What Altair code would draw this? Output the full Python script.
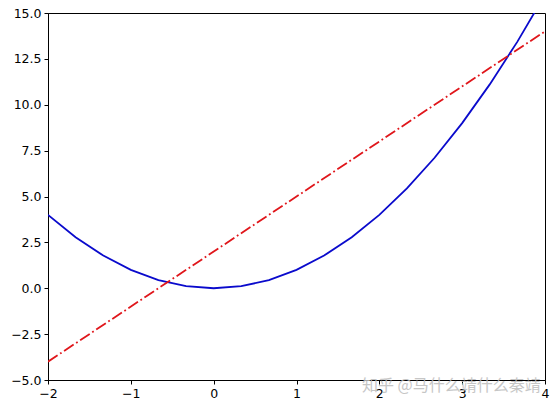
import altair as alt
import pandas as pd

# blue curve, values
curve_x = [-2.0, -1.667, -1.333, -1.0, -0.667, -0.333, 0.0, 0.333, 0.667, 1.0,
           1.333, 1.667, 2.0, 2.333, 2.667, 3.0, 3.333, 3.667, 4.0]
curve_y = [4.0, 2.78, 1.78, 1.0, 0.44, 0.11, 0.0, 0.11, 0.44, 1.0,
           1.78, 2.78, 4.0, 5.44, 7.11, 9.0, 11.11, 13.44, 16.0]
# red dash-dot line
line_x = [-2.0, 4.0]
line_y = [-4.0, 14.0]
# ticks
x_ticks = [-2, -1, 0, 1, 2, 3, 4]
y_ticks = [-5, -2.5, 0, 2.5, 5, 7.5, 10, 12.5, 15]
watermark = "知乎 @马什么靖什么秦靖"

curve_df = pd.DataFrame({"x": curve_x, "y": curve_y})
line_df = pd.DataFrame({"x": line_x, "y": line_y})

xs = alt.Scale(domain=[-2, 4], nice=False, zero=False)
ys = alt.Scale(domain=[-5, 15], nice=False, zero=False)

xax = alt.Axis(values=x_ticks, title=None, labelFlush=False,
               labelExpr="replace(format(datum.value, 'd'), '-', '\u2212')")
yax = alt.Axis(values=y_ticks, title=None, labelFlush=False,
               labelExpr="replace(format(datum.value, '.1f'), '-', '\u2212')")

blue = alt.Chart(curve_df).mark_line(color="#0a0acc", strokeWidth=1.8, clip=True).encode(
    x=alt.X("x:Q", scale=xs, axis=xax),
    y=alt.Y("y:Q", scale=ys, axis=yax),
)
red = alt.Chart(line_df).mark_line(color="#e0161b", strokeWidth=1.8, clip=True,
                                    strokeDash=[11.5, 3, 1.8, 3]).encode(
    x=alt.X("x:Q", scale=xs),
    y=alt.Y("y:Q", scale=ys),
)
wm = alt.Chart(pd.DataFrame({"t": [watermark]})).mark_text(
    align="left", baseline="alphabetic", fontSize=16, font="Noto Sans CJK SC",
    color="#bdbdbd", opacity=0.85,
).encode(x=alt.value(314), y=alt.value(378), text="t:N")

chart = alt.layer(blue, red, wm).properties(
    width=497, height=367,
    autosize=alt.AutoSizeParams(type="none"),
    padding={"left": 40, "top": 5, "right": 7, "bottom": 23},
).configure_view(stroke="black", strokeWidth=1).configure_axis(
    grid=False, domainColor="black", tickColor="black", labelColor="black",
    labelFont="DejaVu Sans", labelFontSize=12.5, tickSize=4, labelPadding=3,
    domainWidth=1, tickWidth=1,
)

chart.save("out.html", embed_options={"renderer": "svg", "actions": False})
